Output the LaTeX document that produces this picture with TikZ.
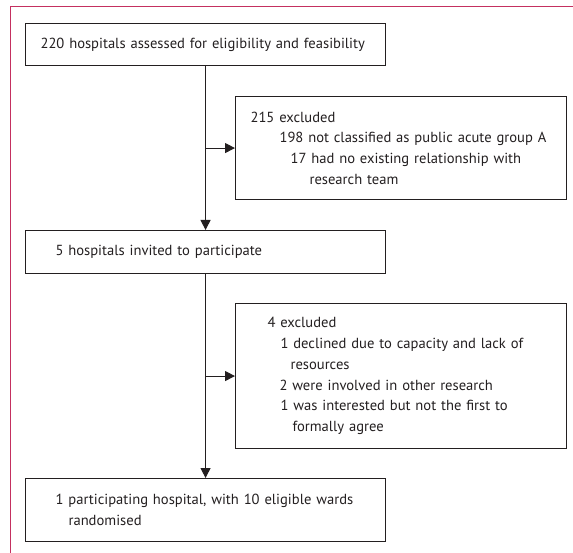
\documentclass[tikz,border=0pt]{standalone}
\usepackage{fontspec}
\setmainfont{PT Sans}
\usetikzlibrary{arrows.meta}
\definecolor{frame}{RGB}{196,48,96}
\definecolor{ink}{RGB}{35,31,32}
\begin{document}
\begin{tikzpicture}[x=1pt,y=-1pt,
  box/.style={draw=ink, line width=1.1pt, anchor=north west, align=left,
    inner ysep=0pt, text=ink,
    font=\fontsize{14.6}{20.7}\selectfont},
  conn/.style={draw=ink, line width=1pt, -{Triangle[length=10pt,width=10pt]}}]
\useasboundingbox (0,0) rectangle (573,553);
\draw[frame, line width=1pt] (573,7) -- (10,7) -- (10,553);
% boxes
\node[box, minimum width=360pt, minimum height=42pt, inner xsep=15pt, text width=330pt] (b1) at (25,23)
  {220 hospitals assessed for eligibility and feasibility};
\node[box, minimum width=331pt, minimum height=103pt, inner xsep=15pt, text width=301pt] (b2) at (235,96)
  {215 excluded\\
   \hspace*{29pt}198 not classified as public acute group A\\
   \hspace*{40pt}17 had no existing relationship with\\
   \hspace*{59pt}research team};
\node[box, minimum width=360pt, minimum height=43pt, inner xsep=30pt, text width=300pt] (b3) at (25,230)
  {5 hospitals invited to participate};
\node[box, minimum width=331pt, minimum height=145pt, inner xsep=32pt, text width=267pt] (b4) at (235,303)
  {4 excluded\\
   \hspace*{13pt}1 declined due to capacity and lack of\\
   \hspace*{23pt}resources\\
   \hspace*{12pt}2 were involved in other research\\
   \hspace*{13pt}1 was interested but not the first to\\
   \hspace*{25pt}formally agree};
\node[box, minimum width=360pt, minimum height=63pt, inner xsep=30pt, text width=300pt] (b5) at (25,478)
  {1 participating hospital, with 10 eligible wards\\
   \hspace*{13pt}randomised};
% connectors
\draw[conn] (b1.south) -- (b3.north);
\draw[conn] (b1.south |- b2.west) -- (b2.west);
\draw[conn] (b3.south) -- (b5.north);
\draw[conn] (b3.south |- b4.west) -- (b4.west);
\end{tikzpicture}
\end{document}
